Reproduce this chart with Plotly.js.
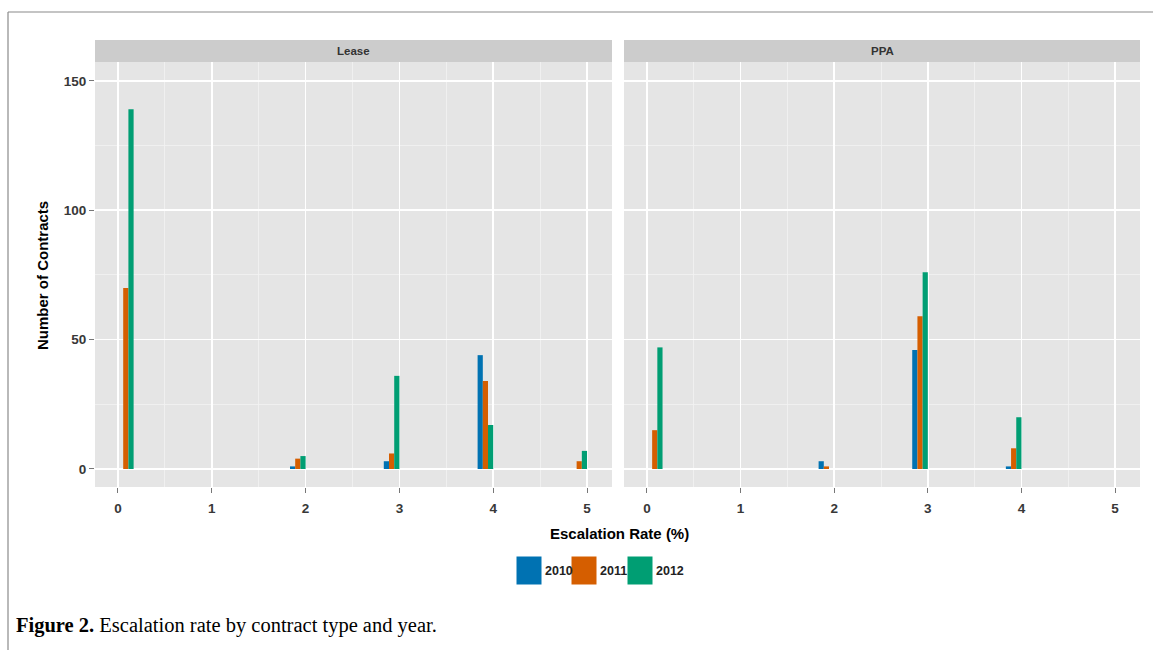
<!DOCTYPE html>
<html>
<head>
<meta charset="utf-8">
<script src="https://cdn.plot.ly/plotly-3.0.1.min.js"></script>
<style>
  html, body { margin: 0; padding: 0; background: #fff; }
  #chart { width: 1153px; height: 650px; }
</style>
</head>
<body>
<div id="chart"></div>
<script>
// ---- data ----
const rates = [0, 2, 3, 4, 5];            // escalation rate (%)
const years = ['2010', '2011', '2012'];
const lease2010 = [0, 1, 3, 44, 0];
const lease2011 = [70, 4, 6, 34, 3];
const lease2012 = [139, 5, 36, 17, 7];
const ppa2010 = [0, 3, 46, 1, 0];
const ppa2011 = [15, 1, 59, 8, 0];
const ppa2012 = [47, 0, 76, 20, 0];
const panels = ['Lease', 'PPA'];
const xTicks = [0, 1, 2, 3, 4, 5];
const yTicks = [0, 50, 100, 150];

const colors = ['#0072B2', '#D55E00', '#009E73'];
const binWidth = 5 / 30; // histogram bins (right-closed)
const binStart = rates.map(r => r === 0 ? 0 : r - binWidth);

const W = 1153, H = 650;
const px = v => v / W, py = v => 1 - v / H;

const series = [
  [lease2010, lease2011, lease2012],
  [ppa2010, ppa2011, ppa2012]
];

const traces = [];
series.forEach((panel, p) => {
  panel.forEach((vals, i) => {
    traces.push({
      type: 'bar',
      name: years[i],
      x: binStart,
      y: vals,
      offset: i * binWidth / 3,
      width: binWidth / 3,
      marker: { color: colors[i], line: { width: 0 } },
      xaxis: p === 0 ? 'x' : 'x2',
      yaxis: p === 0 ? 'y' : 'y2',
      showlegend: false,
      hoverinfo: 'x+y+name'
    });
  });
});

const xDomL = [px(95), px(612)];
const xDomR = [px(624), px(1140)];
const yDom = [py(487), py(62)];

const SANS = 'Liberation Sans, Arial, sans-serif';
const tickFont = { family: SANS, size: 13.5, color: '#383838', weight: 'bold' };

function xAxis(dom, anchor) {
  return {
    domain: dom, anchor: anchor, range: [-0.245, 5.266],
    tickvals: xTicks, ticktext: xTicks.map(String),
    ticks: 'outside', ticklen: 5, tickcolor: '#777', tickwidth: 1,
    ticklabelstandoff: 4,
    tickfont: tickFont,
    showgrid: true, gridcolor: '#ffffff', gridwidth: 1.6,
    minor: { dtick: 0.5, tick0: 0, showgrid: true, gridcolor: '#f2f2f2', gridwidth: 0.8, ticks: '' },
    zeroline: false, showline: false, fixedrange: true
  };
}
function yAxis(anchor, labels) {
  return {
    domain: yDom, anchor: anchor, range: [-6.96, 157.3],
    tickvals: yTicks, ticktext: yTicks.map(String),
    ticks: labels ? 'outside' : '', ticklen: 5, tickcolor: '#777', tickwidth: 1,
    showticklabels: labels, tickfont: tickFont,
    showgrid: true, gridcolor: '#ffffff', gridwidth: 1.6,
    minor: { dtick: 25, tick0: 0, showgrid: true, gridcolor: '#f2f2f2', gridwidth: 0.8, ticks: '' },
    zeroline: false, showline: false, fixedrange: true
  };
}

const shapes = [];
const annotations = [];

// panel backgrounds and strips
[xDomL, xDomR].forEach((dom, p) => {
  shapes.push({ type: 'rect', xref: 'paper', yref: 'paper', x0: dom[0], x1: dom[1], y0: yDom[0], y1: yDom[1],
    fillcolor: '#e5e5e5', line: { width: 0 }, layer: 'below' });
  shapes.push({ type: 'rect', xref: 'paper', yref: 'paper', x0: dom[0], x1: dom[1], y0: py(62), y1: py(40),
    fillcolor: '#cccccc', line: { width: 0 } });
  annotations.push({ xref: 'paper', yref: 'paper', x: (dom[0] + dom[1]) / 2, y: py(51),
    text: panels[p], showarrow: false, xanchor: 'center', yanchor: 'middle',
    font: { family: SANS, size: 11.5, color: '#333', weight: 'bold' } });
});

// figure frame (top and left edge)
shapes.push({ type: 'line', xref: 'paper', yref: 'paper', x0: px(8), x1: 1, y0: py(12), y1: py(12), line: { color: '#8a8a8a', width: 1.2 } });
shapes.push({ type: 'line', xref: 'paper', yref: 'paper', x0: px(8), x1: px(8), y0: py(12), y1: 0, line: { color: '#8a8a8a', width: 1.2 } });

// axis titles
annotations.push({ xref: 'paper', yref: 'paper', x: px(619), y: py(533), text: '<b>Escalation Rate (%)</b>',
  showarrow: false, xanchor: 'center', yanchor: 'middle',
  font: { family: SANS, size: 15, color: '#000' } });
annotations.push({ xref: 'paper', yref: 'paper', x: px(42), y: py(275), text: '<b>Number of Contracts</b>',
  showarrow: false, textangle: -90, xanchor: 'center', yanchor: 'middle',
  font: { family: SANS, size: 15, color: '#000' } });

// legend keys
const legX = [516, 571, 627];
years.forEach((yr, i) => {
  shapes.push({ type: 'rect', xref: 'paper', yref: 'paper', x0: px(legX[i]), x1: px(legX[i] + 26), y0: py(585), y1: py(556),
    fillcolor: colors[i], line: { color: '#ffffff', width: 1 } });
  annotations.push({ xref: 'paper', yref: 'paper', x: px(legX[i] + 26.5), y: py(571), text: '<b>' + yr + '</b>',
    showarrow: false, xanchor: 'left', yanchor: 'middle',
    font: { family: SANS, size: 12.5, color: '#222' } });
});

// caption
annotations.push({ xref: 'paper', yref: 'paper', x: px(14), y: py(625),
  text: '<b>Figure 2.</b> Escalation rate by contract type and year.',
  showarrow: false, xanchor: 'left', yanchor: 'middle',
  font: { family: 'Liberation Serif, Times New Roman, serif', size: 20.5, color: '#000' } });

const layout = {
  width: W, height: H,
  margin: { l: 0, r: 0, t: 0, b: 0 },
  paper_bgcolor: '#ffffff', plot_bgcolor: 'rgba(0,0,0,0)',
  barmode: 'overlay',
  showlegend: false,
  xaxis: xAxis(xDomL, 'y'),
  xaxis2: xAxis(xDomR, 'y2'),
  yaxis: yAxis('x', true),
  yaxis2: yAxis('x2', false),
  shapes: shapes,
  annotations: annotations
};

Plotly.newPlot('chart', traces, layout, { displayModeBar: false, staticPlot: true });
</script>
</body>
</html>
